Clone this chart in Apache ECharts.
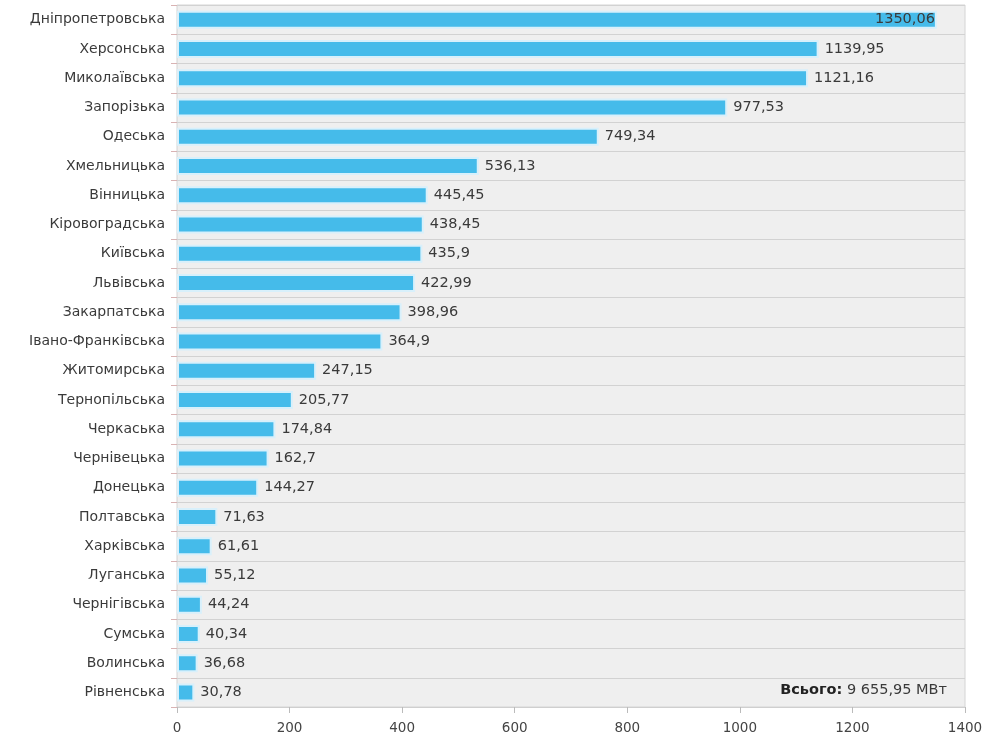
<!DOCTYPE html>
<html>
<head>
<meta charset="utf-8">
<script src="https://cdn.jsdelivr.net/npm/echarts@6/dist/echarts.min.js"></script>
<style>
  html, body { margin: 0; padding: 0; background: #fff; }
  #chart { width: 987px; height: 747px; }
</style>
</head>
<body>
<div id="chart"></div>
<script>
// області (регіони)
var regions = ['Дніпропетровська', 'Херсонська', 'Миколаївська', 'Запорізька', 'Одеська',
  'Хмельницька', 'Вінницька', 'Кіровоградська', 'Київська', 'Львівська', 'Закарпатська',
  'Івано-Франківська', 'Житомирська', 'Тернопільська', 'Черкаська', 'Чернівецька', 'Донецька',
  'Полтавська', 'Харківська', 'Луганська', 'Чернігівська', 'Сумська', 'Волинська', 'Рівненська'];
// потужність, МВт
var power = [1350.06, 1139.95, 1121.16, 977.53, 749.34, 536.13, 445.45, 438.45, 435.9, 422.99,
  398.96, 364.9, 247.15, 205.77, 174.84, 162.7, 144.27, 71.63, 61.61, 55.12, 44.24, 40.34, 36.68, 30.78];
var xTicks = [0, 200, 400, 600, 800, 1000, 1200, 1400];
var totalLabel = 'Всього:';
var totalValue = '9 655,95 МВт';

var FONT = '"DejaVu Sans", sans-serif';
var chart = echarts.init(document.getElementById('chart'));

var barData = power.map(function (v, i) {
  var item = { value: v };
  if (i === 0) {
    item.label = { position: 'insideRight', distance: 2 };
  }
  return item;
});

var option = {
  animation: false,
  textStyle: { fontFamily: FONT },
  grid: {
    left: 177, right: 22, top: 5, bottom: 40,
    show: true,
    backgroundColor: '#efefef',
    borderColor: '#d4d4d4',
    borderWidth: 1
  },
  xAxis: {
    type: 'value',
    min: xTicks[0],
    max: xTicks[xTicks.length - 1],
    interval: 200,
    axisLine: { show: true, lineStyle: { color: '#cfcfcf' } },
    axisTick: { show: true, length: 6, lineStyle: { color: '#bbb' } },
    axisLabel: {
      color: '#444', fontSize: 13.5, margin: 14, fontFamily: FONT,
      formatter: function (v) { return String(v); }
    },
    splitLine: { show: false }
  },
  yAxis: {
    type: 'category',
    inverse: true,
    data: regions,
    axisLine: { show: false },
    axisTick: { show: true, length: 6, lineStyle: { color: '#d9b3b3' } },
    axisLabel: { color: '#3a3a3a', fontSize: 14, margin: 12, fontFamily: FONT },
    splitLine: { show: true, lineStyle: { color: '#d2d2d2', width: 1 } }
  },
  series: [{
    type: 'bar',
    data: barData,
    barWidth: 18,
    itemStyle: {
      color: '#45bbea',
      borderColor: '#d8f0fb',
      borderWidth: 2
    },
    label: {
      show: true,
      position: 'right',
      distance: 6,
      color: '#3a3a3a',
      fontSize: 14.5,
      fontFamily: FONT,
      formatter: function (p) { return String(p.value).replace('.', ','); }
    }
  }],
  graphic: [{
    type: 'text',
    right: 40,
    top: 683,
    style: {
      text: '{b|' + totalLabel + '} ' + totalValue,
      fill: '#3a3a3a',
      font: '14.5px ' + FONT,
      rich: { b: { fontWeight: 'bold', fontSize: 14.5, fontFamily: FONT, fill: '#222' } }
    }
  }]
};

chart.setOption(option);
</script>
</body>
</html>
